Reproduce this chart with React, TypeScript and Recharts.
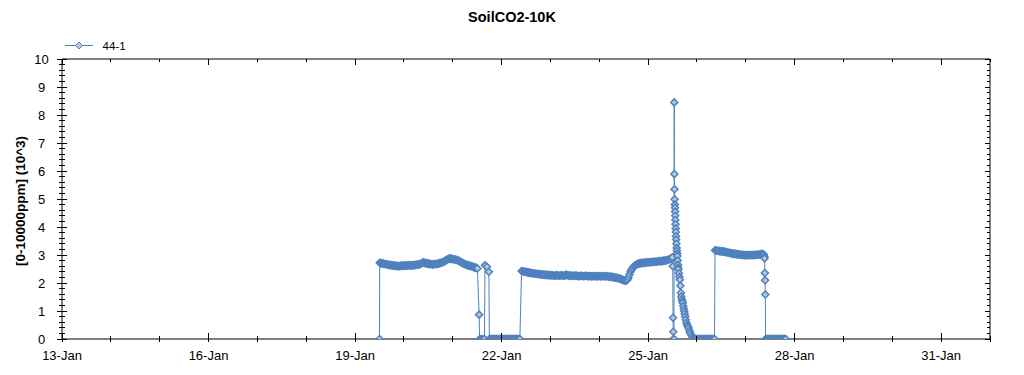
import React from 'react';
import { LineChart, Line, XAxis, YAxis } from 'recharts';

// half-hourly logger readings (x10^3 ppm), each block starts at the given day of January
const STEP = 1 / 48;

const seg1Start = 19.505;
const seg1 = [
  2.72, 2.71, 2.7, 2.7, 2.69, 2.68, 2.67, 2.66, 2.66, 2.65, 2.64, 2.64,
  2.63, 2.62, 2.63, 2.61, 2.62, 2.6, 2.61, 2.6, 2.61, 2.62, 2.61, 2.62,
  2.63, 2.62, 2.61, 2.63, 2.64, 2.62, 2.63, 2.64, 2.62, 2.63, 2.65, 2.64,
  2.65, 2.66, 2.65, 2.67, 2.68, 2.7, 2.72, 2.74, 2.72, 2.71, 2.7, 2.69,
  2.7, 2.68, 2.67, 2.68, 2.66, 2.67, 2.68, 2.67, 2.69, 2.68, 2.7, 2.71,
  2.72, 2.73, 2.74, 2.76, 2.78, 2.81, 2.83, 2.85, 2.87, 2.86, 2.88, 2.86,
  2.85, 2.84, 2.85, 2.83, 2.82, 2.8, 2.79, 2.76, 2.74, 2.72, 2.7, 2.69,
  2.66, 2.65, 2.64, 2.63, 2.62, 2.61, 2.6, 2.59, 2.57, 2.56, 2.55, 2.54,
  2.52,
];
const drop1: [number, number][] = [
  [21.54, 0.87], [21.55, 0], [21.58, 0], [21.62, 0], [21.65, 0],
  [21.66, 2.63], [21.7, 2.58], [21.74, 2.4], [21.75, 0],
];
const zeros1Start = 21.77;
const zeros1 = [
  0, 0, 0, 0, 0, 0, 0, 0, 0, 0, 0, 0, 0, 0, 0,
  0, 0, 0, 0, 0, 0, 0, 0, 0, 0, 0, 0, 0, 0, 0,
];

const seg2Start = 22.41;
const seg2 = [
  2.43, 2.42, 2.41, 2.4, 2.4, 2.39, 2.38, 2.37, 2.37, 2.36, 2.35, 2.35,
  2.34, 2.34, 2.33, 2.33, 2.32, 2.32, 2.31, 2.31, 2.3, 2.3, 2.3, 2.29,
  2.29, 2.28, 2.29, 2.28, 2.27, 2.28, 2.28, 2.27, 2.26, 2.27, 2.28, 2.27,
  2.27, 2.26, 2.27, 2.28, 2.27, 2.26, 2.27, 2.28, 2.29, 2.28, 2.27, 2.27,
  2.26, 2.27, 2.26, 2.25, 2.26, 2.27, 2.26, 2.25, 2.24, 2.25, 2.26, 2.25,
  2.25, 2.24, 2.25, 2.26, 2.25, 2.24, 2.24, 2.25, 2.24, 2.23, 2.24, 2.25,
  2.24, 2.24, 2.23, 2.24, 2.25, 2.24, 2.23, 2.24, 2.25, 2.24, 2.23, 2.24,
  2.24, 2.23, 2.22, 2.23, 2.22, 2.21, 2.21, 2.2, 2.19, 2.19, 2.18, 2.17,
  2.16, 2.15, 2.13, 2.12, 2.1, 2.09, 2.08, 2.09, 2.12, 2.2, 2.3, 2.4,
  2.47, 2.53, 2.57, 2.61, 2.64, 2.66, 2.68, 2.69, 2.7, 2.71, 2.71, 2.72,
  2.72, 2.73, 2.72, 2.73, 2.74, 2.74, 2.73, 2.75, 2.75, 2.76, 2.75, 2.76,
  2.77, 2.76, 2.77, 2.78, 2.78, 2.77, 2.79, 2.79, 2.8, 2.8, 2.81, 2.82,
  2.83, 2.84, 2.86, 2.88,
];
const spike: [number, number][] = [
  [25.48, 2.88], [25.5, 2.92], [25.505, 2.6], [25.51, 0.76], [25.515, 0.26], [25.52, 0], [25.53, 0],
  [25.535, 8.45], [25.538, 5.89], [25.541, 5.35], [25.544, 4.99], [25.547, 4.8], [25.55, 4.69],
  [25.553, 4.55], [25.556, 4.4], [25.559, 4.25], [25.562, 4.1], [25.565, 3.95], [25.568, 3.82],
  [25.571, 3.67], [25.575, 3.55], [25.58, 3.4], [25.585, 3.25], [25.59, 3.15], [25.595, 3.05],
  [25.6, 2.96], [25.605, 2.8], [25.61, 2.65], [25.615, 2.55], [25.62, 2.48], [25.63, 2.35],
  [25.64, 2.22], [25.65, 2.12], [25.66, 1.9], [25.67, 1.65], [25.68, 1.52], [25.69, 1.42],
  [25.7, 1.35], [25.71, 1.29], [25.72, 1.18], [25.73, 1.08], [25.74, 0.99], [25.75, 0.9],
  [25.76, 0.8], [25.77, 0.69], [25.785, 0.58], [25.8, 0.5], [25.815, 0.45], [25.83, 0.39],
  [25.845, 0.3], [25.86, 0.22], [25.88, 0.15], [25.9, 0.09], [25.92, 0.04], [25.94, 0],
];
const zeros2Start = 25.96;
const zeros2 = [0, 0, 0, 0, 0, 0, 0, 0, 0, 0, 0, 0, 0, 0, 0, 0, 0, 0, 0];

const seg3Start = 26.37;
const seg3 = [
  3.17, 3.16, 3.15, 3.15, 3.14, 3.13, 3.14, 3.13, 3.12, 3.11, 3.12, 3.1,
  3.09, 3.08, 3.08, 3.07, 3.06, 3.05, 3.05, 3.04, 3.04, 3.03, 3.02, 3.03,
  3.02, 3.01, 3.01, 3.0, 3.0, 2.99, 3.0, 2.99, 2.99, 3.0, 2.99, 3.0,
  3.0, 2.99, 3.0, 3.01, 3.0, 3.01, 3.02, 3.01, 3.02, 3.03, 3.04, 3.03,
  3.02,
];
const drop3: [number, number][] = [
  [27.38, 2.95], [27.385, 2.88], [27.39, 2.36], [27.395, 2.1], [27.4, 1.59], [27.405, 0],
];
const zeros3Start = 27.42;
const zeros3 = [0, 0, 0, 0, 0, 0, 0, 0, 0, 0, 0, 0, 0, 0, 0, 0, 0, 0, 0, 0];

const labelDays = [13, 16, 19, 22, 25, 28, 31];
const yLabels = [0, 1, 2, 3, 4, 5, 6, 7, 8, 9, 10];

const run = (start: number, vals: number[]) => vals.map((v, i) => ({ t: start + i * STEP, v }));
const pairs = (p: [number, number][]) => p.map(([t, v]) => ({ t, v }));

const data = [
  { t: 19.5, v: 0 },
  ...run(seg1Start, seg1),
  ...pairs(drop1),
  ...run(zeros1Start, zeros1),
  ...run(seg2Start, seg2),
  ...pairs(spike),
  ...run(zeros2Start, zeros2),
  { t: 26.36, v: 0 },
  ...run(seg3Start, seg3),
  ...pairs(drop3),
  ...run(zeros3Start, zeros3),
];

const dayTicks = Array.from({ length: 20 }, (_, i) => 13 + i);
const yTicks = Array.from({ length: 51 }, (_, i) => Math.round(i * 2) / 10);

const FONT = 'Arial, "Liberation Sans", sans-serif';
const BLUE = '#4f81bd';
const isMajorY = (v: number) => yLabels.some((l) => Math.abs(v - l) < 1e-6);

const BottomTick = ({ x, y, payload }: any) => {
  const major = labelDays.includes(payload.value);
  return (
    <g>
      <line x1={x} x2={x} y1={y - (major ? 6 : 3)} y2={y + 3} stroke="#000" shapeRendering="crispEdges" />
      {major && (
        <text x={x} y={y + 21} textAnchor="middle" fontSize={13} fontFamily={FONT} fill="#000">
          {`${payload.value}-Jan`}
        </text>
      )}
    </g>
  );
};

const TopTick = ({ x, y, payload }: any) => {
  const major = labelDays.includes(payload.value);
  return <line x1={x} x2={x} y1={y} y2={y + (major ? 6 : 3)} stroke="#000" shapeRendering="crispEdges" />;
};

const LeftTick = ({ x, y, payload }: any) => {
  const major = isMajorY(payload.value);
  return (
    <g>
      <line x1={x - (major ? 5 : 3)} x2={x + (major ? 5 : 3)} y1={y} y2={y} stroke="#000" shapeRendering="crispEdges" />
      {major && (
        <text x={x - 20.5} y={y} dy="0.36em" textAnchor="middle" fontSize={13} fontFamily={FONT} fill="#000">
          {Math.round(payload.value)}
        </text>
      )}
    </g>
  );
};

const RightTick = ({ x, y, payload }: any) => {
  const major = isMajorY(payload.value);
  return <line x1={x - (major ? 5 : 3)} x2={x} y1={y} y2={y} stroke="#000" shapeRendering="crispEdges" />;
};

const Diamond = (props: any) => {
  const { cx, cy, index } = props;
  if (cx == null || cy == null) return <g key={`d${index}`} />;
  const s = 3.5;
  return (
    <path
      key={`d${index}`}
      d={`M${cx},${cy - s}L${cx + s},${cy}L${cx},${cy + s}L${cx - s},${cy}Z`}
      fill="#b7c9df"
      stroke={BLUE}
      strokeWidth={1.5}
    />
  );
};

export default function App() {
  return (
    <div style={{ position: 'absolute', left: 0, top: 0, width: 1024, height: 375, background: '#fff', fontFamily: FONT }}>
      <div style={{ position: 'absolute', left: 0, width: 1024, top: 9, textAlign: 'center', fontSize: 14.5, fontWeight: 'bold' }}>
        SoilCO2-10K
      </div>
      <svg style={{ position: 'absolute', left: 0, top: 0 }} width={200} height={60}>
        <line x1={65} x2={93} y1={45.5} y2={45.5} stroke={BLUE} />
        <path d="M79,42L82.5,45.5L79,49L75.5,45.5Z" fill="#b7c9df" stroke={BLUE} />
        <text x={102.5} y={50} fontSize={11.6} fontFamily={FONT} fill="#000">44-1</text>
      </svg>
      <div
        style={{
          position: 'absolute',
          left: 20,
          top: 201,
          transform: 'translate(-50%, -50%) rotate(-90deg)',
          whiteSpace: 'nowrap',
          fontSize: 13.5,
          fontWeight: 'bold',
        }}
      >
        [0-10000ppm] (10^3)
      </div>
      <LineChart
        width={1024}
        height={375}
        data={data}
        margin={{ top: 58, right: 33, bottom: 6, left: 22 }}
      >
        <XAxis
          dataKey="t"
          type="number"
          domain={[13, 32]}
          ticks={dayTicks}
          interval={0}
          height={30}
          tickSize={0}
          tickMargin={0}
          tickLine={false}
          axisLine={{ stroke: '#000' }}
          tick={<BottomTick />}
        />
        <XAxis
          xAxisId="top"
          dataKey="t"
          orientation="top"
          type="number"
          domain={[13, 32]}
          ticks={dayTicks}
          interval={0}
          height={1}
          tickSize={0}
          tickMargin={0}
          tickLine={false}
          axisLine={{ stroke: '#000' }}
          tick={<TopTick />}
        />
        <YAxis
          type="number"
          domain={[0, 10]}
          ticks={yTicks}
          interval={0}
          width={40}
          allowDataOverflow
          tickSize={0}
          tickMargin={0}
          tickLine={false}
          axisLine={{ stroke: '#000' }}
          tick={<LeftTick />}
        />
        <YAxis
          yAxisId="right"
          orientation="right"
          type="number"
          domain={[0, 10]}
          ticks={yTicks}
          interval={0}
          width={1}
          tickSize={0}
          tickMargin={0}
          tickLine={false}
          axisLine={{ stroke: '#000' }}
          tick={<RightTick />}
        />
        <Line
          xAxisId="top"
          yAxisId="right"
          dataKey="v"
          stroke="none"
          dot={false}
          activeDot={false}
          legendType="none"
          isAnimationActive={false}
        />
        <Line
          type="linear"
          dataKey="v"
          stroke={BLUE}
          strokeWidth={1}
          dot={Diamond}
          activeDot={false}
          isAnimationActive={false}
        />
      </LineChart>
    </div>
  );
}
